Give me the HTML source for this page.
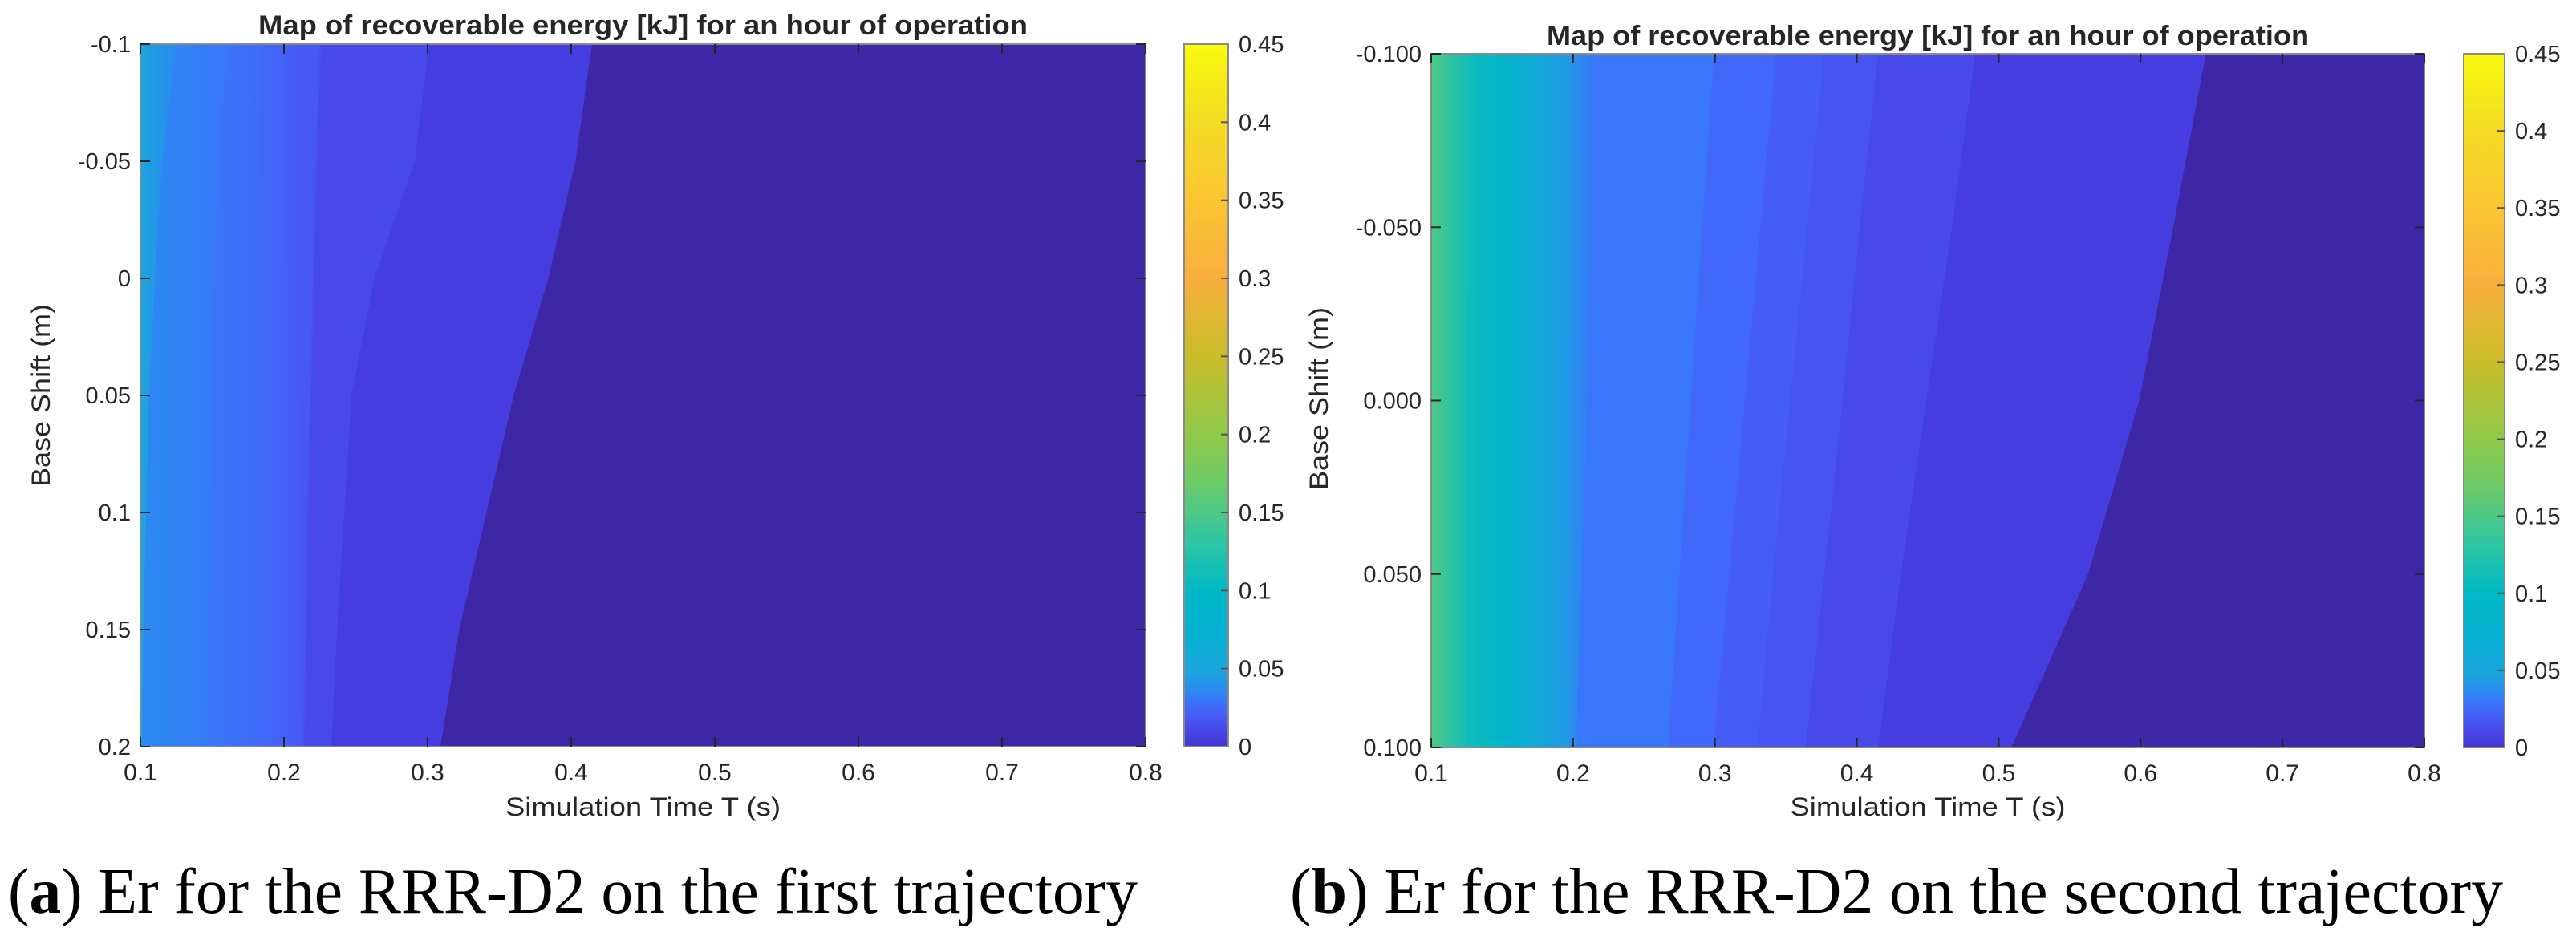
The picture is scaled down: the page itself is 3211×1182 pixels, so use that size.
<!DOCTYPE html>
<html><head><meta charset="utf-8"><style>
html,body{margin:0;padding:0;background:#fff;}
svg{display:block;}
text{font-family:"Liberation Sans",Arial,sans-serif;fill:#262626;}
.cap{font-family:"Liberation Serif","Times New Roman",serif;fill:#000;}
</style></head><body>
<svg id="fig" xmlns="http://www.w3.org/2000/svg" width="3211" height="1182" viewBox="0 0 3211 1182">
<defs id="defs"></defs>
<g id="panelA"></g>
<g id="panelB"></g>
<text class="cap" x="10" y="1138" font-size="80" textLength="1408" lengthAdjust="spacingAndGlyphs">(<tspan font-weight="bold">a</tspan>) Er for the RRR-D2 on the first trajectory</text>
<text class="cap" x="1608" y="1138" font-size="80" textLength="1512" lengthAdjust="spacingAndGlyphs">(<tspan font-weight="bold">b</tspan>) Er for the RRR-D2 on the second trajectory</text>
</svg>
<script>
// ---- data: panel A ----
const ysA = [-0.1, -0.05, 0, 0.05, 0.1, 0.15, 0.2];
const levelsA = [0.046, 0.036, 0.03, 0.026, 0.021, 0.017, 0.014, 0.011, 0.006, 0];
const edgesA = [
  [0.125,0.115,0.110,0.106,0.104,0.102,0.101],
  [0.160,0.155,0.152,0.150,0.148,0.147,0.146],
  [0.182,0.181,0.180,0.180,0.180,0.180,0.180],
  [0.200,0.200,0.201,0.201,0.202,0.202,0.202],
  [0.2145,0.214,0.214,0.214,0.213,0.213,0.213],
  [0.2245,0.222,0.220,0.218,0.216,0.215,0.213],
  [0.226,0.223,0.221,0.219,0.217,0.216,0.214],
  [0.301,0.291,0.263,0.247,0.242,0.237,0.233],
  [0.4145,0.403,0.384,0.360,0.341,0.322,0.309],
  [0.8,0.8,0.8,0.8,0.8,0.8,0.8]
];
const smoothA = 5;
const yTicksA = [-0.1, -0.05, 0, 0.05, 0.1, 0.15, 0.2];
const yTickLabelsA = ["-0.1","-0.05","0","0.05","0.1","0.15","0.2"];
// ---- data: panel B ----
const ysB = [-0.1, -0.05, 0, 0.05, 0.1];
const levelsB = [0.15, 0.11, 0.09, 0.06, 0.04, 0.03, 0.025, 0.02, 0.016, 0.011, 0.006, 0];
const edgesB = [
  [0.128,0.126,0.125,0.125,0.125],
  [0.150,0.150,0.150,0.150,0.150],
  [0.172,0.172,0.172,0.172,0.172],
  [0.200,0.199,0.198,0.197,0.196],
  [0.216,0.213,0.210,0.206,0.202],
  [0.2994,0.291,0.283,0.275,0.267],
  [0.343,0.332,0.321,0.310,0.299],
  [0.377,0.365,0.353,0.341,0.330],
  [0.415,0.402,0.390,0.377,0.364],
  [0.4835,0.467,0.449,0.431,0.415],
  [0.646,0.623,0.599,0.563,0.509],
  [0.8,0.8,0.8,0.8,0.8]
];
const smoothB = 5;
const yTicksB = [-0.1, -0.05, 0, 0.05, 0.1];
const yTickLabelsB = ["-0.100","-0.050","0.000","0.050","0.100"];
// ---- shared axes ----
const xTicks = [0.1,0.2,0.3,0.4,0.5,0.6,0.7,0.8];
const xTickLabels = ["0.1","0.2","0.3","0.4","0.5","0.6","0.7","0.8"];
const cTicks = [0,0.05,0.1,0.15,0.2,0.25,0.3,0.35,0.4,0.45];
const cTickLabels = ["0","0.05","0.1","0.15","0.2","0.25","0.3","0.35","0.4","0.45"];
const cmapVals = [0,0.004,0.009,0.014,0.019,0.024,0.028,0.034,0.045,0.07,0.1,0.13,0.17,0.2,0.25,0.3,0.35,0.4,0.45];
const cmapCols = ['#3d27a6','#4539dc','#4844e5','#4850f0','#465bf6','#4165f9','#3d70fb','#2e84f6','#1ea3de','#06b0d2','#00b8c6','#2cc6a4','#6ecb66','#90c94a','#c9bd29','#f8ae3c','#fcc532','#f3dc25','#f8fa0e'];

const NS = 'http://www.w3.org/2000/svg';
function hex2rgb(h){return [parseInt(h.slice(1,3),16),parseInt(h.slice(3,5),16),parseInt(h.slice(5,7),16)];}
function cmap(v){
  if(v<=cmapVals[0]) return cmapCols[0];
  for(let i=1;i<cmapVals.length;i++){
    if(v<=cmapVals[i]){
      const t=(v-cmapVals[i-1])/(cmapVals[i]-cmapVals[i-1]);
      const a=hex2rgb(cmapCols[i-1]), b=hex2rgb(cmapCols[i]);
      return 'rgb('+a.map((c,k)=>Math.round(c+(b[k]-c)*t)).join(',')+')';
    }
  }
  return cmapCols[cmapCols.length-1];
}
function mk(tag, attrs, parent){
  const e=document.createElementNS(NS,tag);
  for(const k in attrs) e.setAttribute(k,attrs[k]);
  parent.appendChild(e); return e;
}

function drawPanel(g, id, P, ys, levels, edges, smooth, yTicks, yLabels, cb){
  const xS = v => P.x0 + (v-0.1)/0.7*(P.x1-P.x0);
  const yS = v => P.y0 + (v-ys[0])/(ys[ys.length-1]-ys[0])*(P.y1-P.y0);
  const defs=document.getElementById('defs');
  const title = mk('text',{x:(P.x0+P.x1)/2, y:P.ty, 'font-size':34, 'font-weight':'bold','text-anchor':'middle', textLength:P.tw, lengthAdjust:'spacingAndGlyphs'}, g);
  
  
  title.textContent='Map of recoverable energy [kJ] for an hour of operation';
  const bands = mk('g',{}, g);
  
  
  for(let b=0;b<levels.length;b++){
    const right = edges[b];
    const left = b===0 ? ys.map(()=>0.1) : edges[b-1];
    let pts=[];
    for(let i=0;i<ys.length;i++) pts.push(xS(left[i]).toFixed(1)+','+yS(ys[i]).toFixed(1));
    for(let i=ys.length-1;i>=0;i--) pts.push((xS(right[i])+0.8).toFixed(1)+','+yS(ys[i]).toFixed(1));
    let fill = cmap(levels[b]);
    if(b<smooth){
      const gid='bg'+id+b;
      const lg=mk('linearGradient',{id:gid,x1:0,y1:0,x2:1,y2:0},defs);
      mk('stop',{offset:0,'stop-color':cmap(levels[b])},lg);
      mk('stop',{offset:1,'stop-color':cmap(levels[b+1])},lg);
      fill='url(#'+gid+')';
    }
    const p = mk('polygon',{points:pts.join(' '), fill:fill}, bands);
    
    
  }
  const box = mk('rect',{x:P.x0,y:P.y0,width:P.x1-P.x0,height:P.y1-P.y0,fill:'none',stroke:'#8a8a8a','stroke-width':2}, g);
  
  
  const xa = mk('g',{}, g);
  
  
  xTicks.forEach((v,i)=>{
    const x=xS(v);
    mk('line',{x1:x,x2:x,y1:P.y1,y2:P.y1-12,stroke:'#262626','stroke-width':2},xa);
    mk('line',{x1:x,x2:x,y1:P.y0,y2:P.y0+12,stroke:'#262626','stroke-width':2},xa);
    const t=mk('text',{x:x,y:P.y1+42,'font-size':30,'text-anchor':'middle'},xa);
    
    
    t.textContent=xTickLabels[i];
  });
  const xl=mk('text',{x:(P.x0+P.x1)/2,y:1017,'font-size':32,'text-anchor':'middle',textLength:343,lengthAdjust:'spacingAndGlyphs'},g);
  
  
  xl.textContent='Simulation Time T (s)';
  const ya = mk('g',{}, g);
  
  
  yTicks.forEach((v,i)=>{
    const y=yS(v);
    mk('line',{x1:P.x0,x2:P.x0+12,y1:y,y2:y,stroke:'#262626','stroke-width':2},ya);
    mk('line',{x1:P.x1,x2:P.x1-12,y1:y,y2:y,stroke:'#262626','stroke-width':2},ya);
    const t=mk('text',{x:P.x0-12,y:y+10,'font-size':29,'text-anchor':'end'},ya);
    
    
    t.textContent=yLabels[i];
  });
  const yl=mk('text',{x:0,y:0,'font-size':32,'text-anchor':'middle',textLength:228,lengthAdjust:'spacingAndGlyphs',transform:'translate('+P.ylx+','+P.yly+') rotate(-90)'},g);
  
  
  yl.textContent='Base Shift (m)';
  const grad=mk('linearGradient',{id:'cg'+id,x1:0,y1:1,x2:0,y2:0},defs);
  for(let i=0;i<=45;i++){
    const v=i*0.01;
    mk('stop',{offset:(v/0.45).toFixed(4),'stop-color':i===0?'#4336d0':cmap(v)},grad);
  }
  const cbg=mk('g',{},g);
  
  
  mk('rect',{x:cb.x0,y:P.y0,width:cb.x1-cb.x0,height:P.y1-P.y0,fill:'url(#cg'+id+')',stroke:'#8a8a8a','stroke-width':2},cbg);
  const cS = v => P.y1 - v/0.45*(P.y1-P.y0);
  cTicks.forEach((v,i)=>{
    const y=cS(v);
    if(i>0 && i<cTicks.length-1) mk('line',{x1:cb.x1,x2:cb.x1-9,y1:y,y2:y,stroke:'#555','stroke-width':2},cbg);
    const t=mk('text',{x:cb.x1+13,y:y+10,'font-size':29},cbg);
    
    
    t.textContent=cTickLabels[i];
  });
}

drawPanel(document.getElementById('panelA'),'A',
  {x0:175,x1:1428,y0:55,y1:931,ty:43,tw:959,ylx:62,yly:493},
  ysA, levelsA, edgesA, smoothA, yTicksA, yTickLabelsA, {x0:1476,x1:1531});
drawPanel(document.getElementById('panelB'),'B',
  {x0:1784,x1:3022,y0:67,y1:932,ty:56,tw:950,ylx:1655,yly:497},
  ysB, levelsB, edgesB, smoothB, yTicksB, yTickLabelsB, {x0:3071,x1:3122});
</script>
</body></html>
